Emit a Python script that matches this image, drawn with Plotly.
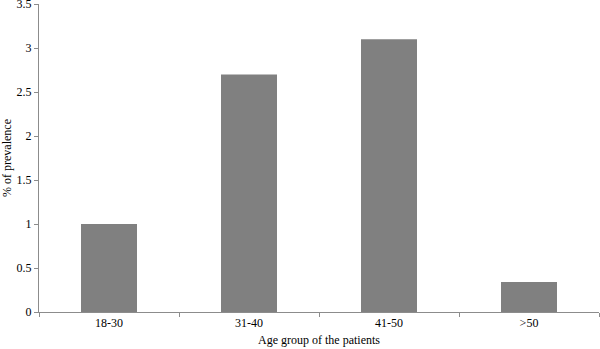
import plotly.graph_objects as go

categories = ["18-30", "31-40", "41-50", ">50"]
prevalence = [1.0, 2.7, 3.1, 0.34]
y_ticks = [0, 0.5, 1, 1.5, 2, 2.5, 3, 3.5]
y_tick_labels = ["0", "0.5", "1", "1.5", "2", "2.5", "3", "3.5"]

fig = go.Figure(go.Bar(x=categories, y=prevalence, marker=dict(color="#808080", line=dict(width=0))))

font = dict(family="Liberation Serif, Times New Roman, serif", size=12, color="#000000")
fig.update_layout(
    width=600, height=349,
    margin=dict(l=39, r=1, t=4, b=37),
    plot_bgcolor="white", paper_bgcolor="white",
    bargap=0.6,
    font=font,
    showlegend=False,
)
fig.update_xaxes(
    showline=True, linecolor="#8c8c8c", linewidth=1,
    ticks="outside", tickson="boundaries", ticklen=4, tickcolor="#8c8c8c",
    showgrid=False, automargin=False,
    title=dict(text="Age group of the patients", font=font, standoff=6),
)
fig.update_yaxes(
    range=[0, 3.5], tickvals=y_ticks, ticktext=y_tick_labels,
    ticklabeloverflow="allow", automargin=False,
    showline=True, linecolor="#8c8c8c", linewidth=1,
    ticks="outside", ticklen=4, tickcolor="#8c8c8c",
    showgrid=False, zeroline=False,
    title=dict(text="% of prevalence", font=font, standoff=8),
)
fig.write_html("out.html")
